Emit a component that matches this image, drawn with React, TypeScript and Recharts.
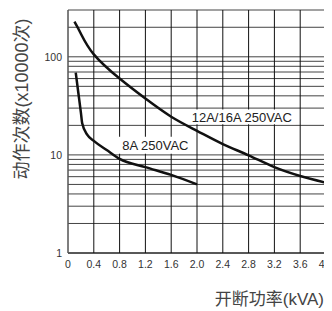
import React from 'react';
import {
  LineChart, Line, XAxis, YAxis, CartesianGrid, ReferenceArea, Customized,
} from 'recharts';

// 12A/16A 250VAC curve
const x12 = [0.1, 0.2, 0.4, 0.8, 1.2, 1.6, 2.0, 2.4, 2.8, 3.2, 3.6, 4.0];
const y12 = [228, 172, 106, 60, 37.5, 24.5, 17.6, 12.9, 9.9, 7.5, 6.1, 5.2];

// 8A 250VAC curve
const x8 = [0.12, 0.16, 0.2, 0.22, 0.3, 0.4, 0.6, 0.8, 1.2, 1.6, 2.0];
const y8 = [69, 43, 27, 21, 16, 13.9, 11.2, 9.1, 7.5, 6.25, 5.0];

const xTicks = [0, 0.4, 0.8, 1.2, 1.6, 2.0, 2.4, 2.8, 3.2, 3.6, 4.0];
const xTickLabels = ['0', '0.4', '0.8', '1.2', '1.6', '2.0', '2.4', '2.8', '3.2', '3.6', '4.0'];
const yTicks = [1, 2, 3, 4, 5, 6, 7, 8, 9, 10, 20, 30, 40, 50, 60, 70, 80, 90, 100, 200, 300];
const yTickLabeled = [1, 10, 100];

const seriesNames = ['12A/16A 250VAC', '8A 250VAC'];
const yTitle = '动作次数(x10000次)';
const xTitle = '开断功率(kVA)';

const data12 = x12.map((x, i) => ({ x, y: y12[i] }));
const data8 = x8.map((x, i) => ({ x, y: y8[i] }));

const FONT = '"Liberation Sans", Arial, "Noto Sans CJK SC", sans-serif';

const Titles = () => (
  <g>
    <text
      x={14}
      y={91}
      transform="rotate(-90 14 91)"
      textAnchor="middle"
      dominantBaseline="central"
      fontSize={18}
      fill="#444"
      fontFamily={FONT}
    >
      {yTitle}
    </text>
    <text
      x={316}
      y={297}
      textAnchor="end"
      fontSize={17}
      fill="#444"
      fontFamily={FONT}
    >
      {xTitle}
    </text>
  </g>
);

export default function App() {
  return (
    <div style={{ width: 324, height: 303, fontFamily: FONT }}>
      <LineChart
        width={324}
        height={303}
        margin={{ top: 2, right: 6, bottom: 0, left: 0 }}
      >
        <CartesianGrid horizontal={true} vertical={false} stroke="#444" strokeWidth={1} />
        <CartesianGrid horizontal={false} vertical={true} stroke="#111" strokeWidth={1} />
        <XAxis
          type="number"
          dataKey="x"
          domain={[0, 4]}
          ticks={xTicks}
          tickFormatter={(v: number) => xTickLabels[xTicks.indexOf(v)] ?? ''}
          tickLine={false}
          axisLine={{ stroke: '#111' }}
          height={58}
          tick={{ fontSize: 10.5, fill: '#333', fontFamily: FONT }}
          interval={0}
          allowDataOverflow
        />
        <YAxis
          type="number"
          dataKey="y"
          scale="log"
          domain={[1, 300]}
          ticks={yTicks}
          tickFormatter={(v: number) => (yTickLabeled.includes(v) ? String(v) : '')}
          tickLine={false}
          tickMargin={0}
          axisLine={{ stroke: '#777' }}
          width={60}
          interval={0}
          tick={{ fontSize: 10.5, fill: '#333', fontFamily: FONT }}
          allowDataOverflow
        />
        <ReferenceArea
          x1={1.86}
          x2={3.53}
          y1={20.5}
          y2={29}
          fill="#fff"
          fillOpacity={1}
          stroke="none"
          ifOverflow="visible"
          label={{ value: seriesNames[0], position: 'center', fill: '#222', fontSize: 13, fontFamily: FONT }}
        />
        <ReferenceArea
          x1={0.74}
          x2={1.97}
          y1={10.3}
          y2={15.3}
          fill="#fff"
          fillOpacity={1}
          stroke="none"
          ifOverflow="visible"
          label={{ value: seriesNames[1], position: 'center', fill: '#222', fontSize: 13, fontFamily: FONT }}
        />
        <Line
          data={data12}
          dataKey="y"
          type="natural"
          stroke="#111"
          strokeWidth={2.5}
          dot={false}
          isAnimationActive={false}
        />
        <Line
          data={data8}
          dataKey="y"
          type="monotone"
          stroke="#111"
          strokeWidth={2.5}
          dot={false}
          isAnimationActive={false}
        />
        <Customized component={Titles} />
      </LineChart>
    </div>
  );
}
